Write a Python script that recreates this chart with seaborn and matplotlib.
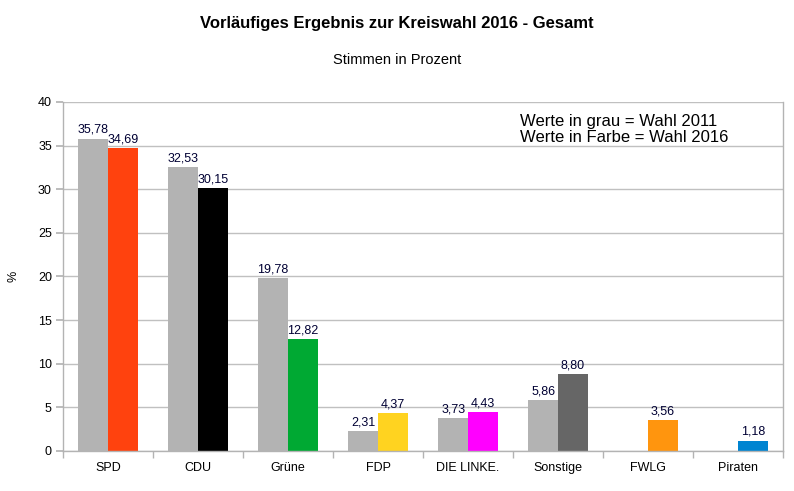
import numpy as np
import pandas as pd
import matplotlib.pyplot as plt
import seaborn as sns
from matplotlib.container import BarContainer

# Data
parteien = ["SPD", "CDU", "Grüne", "FDP", "DIE LINKE.", "Sonstige", "FWLG", "Piraten"]
wahl_2011 = [35.78, 32.53, 19.78, 2.31, 3.73, 5.86, np.nan, np.nan]
wahl_2016 = [34.69, 30.15, 12.82, 4.37, 4.43, 8.80, 3.56, 1.18]
farben_2016 = ["#ff420e", "#000000", "#00a933", "#ffd320", "#ff00ff",
               "#666666", "#ff950e", "#0084d1"]
grau = "#b3b3b3"

df = pd.DataFrame({
    "Partei": parteien * 2,
    "Jahr": ["2011"] * len(parteien) + ["2016"] * len(parteien),
    "Prozent": wahl_2011 + wahl_2016,
})

sns.set_theme(style="white")
plt.rcParams["font.family"] = ["Liberation Sans", "DejaVu Sans"]
plt.rcParams["text.color"] = "black"
plt.rcParams["axes.labelcolor"] = "black"
plt.rcParams["xtick.labelcolor"] = "black"
plt.rcParams["ytick.labelcolor"] = "black"

fig = plt.figure(figsize=(7.94, 4.91), dpi=100)
ax = fig.add_axes([0.0793, 0.0815, 0.907, 0.711])

sns.barplot(data=df, x="Partei", y="Prozent", hue="Jahr", order=parteien,
            hue_order=["2011", "2016"], palette=[grau, grau], width=0.66,
            gap=0, saturation=1, legend=False, linewidth=0, ax=ax)

# colour the 2016 bars per party (matched by bar position)
for patch in ax.containers[1]:
    if patch is None:
        continue
    i = int(round(patch.get_x() + patch.get_width() / 2))
    patch.set_facecolor(farben_2016[i])


def fmt(v):
    return f"{v:.2f}".replace(".", ",")


# label each bar with its value (comma as decimal separator)
for cont in ax.containers[:2]:
    bars = [p for p in cont if p is not None and np.isfinite(p.get_height())]
    hoehen = [p.get_height() for p in bars]
    bc = BarContainer(bars, datavalues=hoehen, orientation="vertical")
    ax.bar_label(bc, labels=[fmt(h) for h in hoehen],
                 padding=2, fontsize=9, color="#000033")

ax.set_ylim(0, 40)
ax.set_yticks(range(0, 41, 5))
ax.set_xlim(-0.5, len(parteien) - 0.5)
ax.yaxis.grid(True, color="#c0c0c0", linewidth=1)
ax.set_axisbelow(True)

# category ticks sit at the boundaries
ax.set_xticks(np.arange(-0.5, len(parteien)), minor=True)
ax.tick_params(axis="x", which="major", length=0, pad=8, labelsize=9)
ax.tick_params(axis="x", which="minor", length=5, color="#b3b3b3", bottom=True)
ax.tick_params(axis="y", length=5, color="#b3b3b3", left=True, labelsize=9,
               pad=3)

for side in ["left", "bottom", "right"]:
    ax.spines[side].set_color("#b3b3b3")
    ax.spines[side].set_linewidth(1)
ax.spines["top"].set_visible(False)

ax.set_xlabel("")
ax.set_ylabel("%", fontsize=9)
ax.yaxis.set_label_coords(-0.06, 0.5)

ax.text(0.634, 0.965, "Werte in grau = Wahl 2011\nWerte in Farbe = Wahl 2016",
        transform=ax.transAxes, fontsize=12, va="top", ha="left",
        color="#000000", linespacing=1.05)

fig.text(0.5, 0.953, "Vorläufiges Ergebnis zur Kreiswahl 2016 - Gesamt",
         ha="center", va="center", fontsize=12, fontweight="bold")
fig.text(0.5, 0.878, "Stimmen in Prozent", ha="center", va="center",
         fontsize=10.5)

fig.savefig("out.png", dpi=100, facecolor="white")
